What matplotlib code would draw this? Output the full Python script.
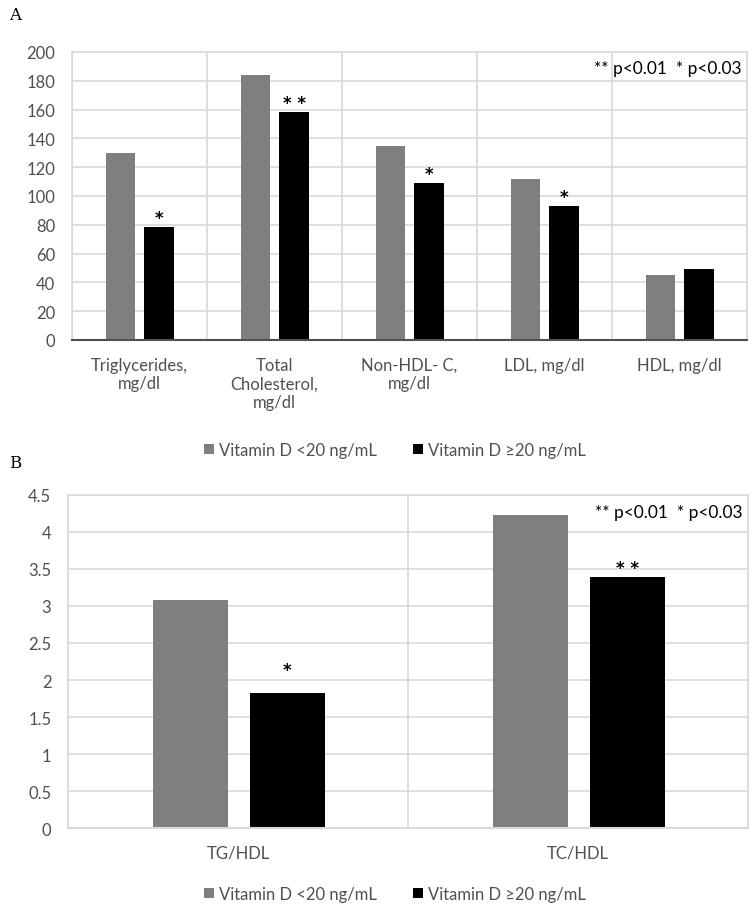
import numpy as np
import matplotlib.pyplot as plt
from matplotlib.ticker import FormatStrFormatter

plt.rcParams['font.family'] = ['Lato', 'DejaVu Sans']

# panel A
lipid_labels = ["Triglycerides,\nmg/dl", "Total\nCholesterol,\nmg/dl", "Non-HDL- C,\nmg/dl",
                "LDL, mg/dl", "HDL, mg/dl"]
lipid_low = [130, 184, 135, 112, 45]
lipid_high = [78.5, 158.5, 109, 93, 49]
lipid_stars = ["*", "**", "*", "*", ""]

# panel B
ratio_labels = ["TG/HDL", "TC/HDL"]
ratio_low = [3.08, 4.22]
ratio_high = [1.82, 3.39]
ratio_stars = ["*", "**"]

series_names = ["Vitamin D <20 ng/mL", "Vitamin D \u226520 ng/mL"]
GRAY = "#7f7f7f"
GRID = "#d9d9d9"
TXT = "#505050"

fig = plt.figure(figsize=(7.55, 9.12), dpi=100)
axA = fig.add_axes([0.0954, 0.6261, 0.894, 0.3158])
axB = fig.add_axes([0.0901, 0.0907, 0.9006, 0.3658])


def draw_panel(ax, labels, low, high, stars, ymax, ystep, star_offsets, zero_color):
    x = np.arange(len(labels))
    w = 0.22
    b1 = ax.bar(x - 0.14, low, w, color=GRAY, label=series_names[0], zorder=3)
    b2 = ax.bar(x + 0.145, high, w, color="black", label=series_names[1], zorder=3)
    for xi, h, s, off in zip(x, high, stars, star_offsets):
        if s:
            ax.annotate(" ".join(s), (xi + 0.145, h), xytext=(0, off),
                        textcoords="offset points", ha="center", va="bottom",
                        fontsize=12, fontweight="bold", family="DejaVu Sans")
    ax.set_xlim(-0.5, len(labels) - 0.5)
    ax.set_ylim(0, ymax)
    ax.set_yticks(np.arange(0, ymax + ystep / 2, ystep))
    ax.yaxis.set_major_formatter(FormatStrFormatter("%g"))
    ax.set_xticks(x)
    ax.set_xticklabels(labels)
    ax.set_xticks(np.arange(len(labels) + 1) - 0.5, minor=True)
    ax.grid(axis="y", color=GRID, linewidth=1.2, zorder=0)
    ax.grid(axis="x", which="minor", color=GRID, linewidth=1.2, zorder=0)
    ax.tick_params(which="both", length=0)
    ax.tick_params(axis="y", pad=12, labelsize=12, labelcolor=TXT)
    ax.tick_params(axis="x", pad=12, labelsize=12, labelcolor=TXT)
    for sp in ["left", "top", "right"]:
        ax.spines[sp].set_color(GRID)
        ax.spines[sp].set_linewidth(1.2)
    ax.spines["bottom"].set_color(zero_color)
    ax.spines["bottom"].set_linewidth(1.5)
    ax.spines["bottom"].set_zorder(4)
    ax.text(0.992, 0.972, "** p<0.01  * p<0.03", transform=ax.transAxes,
            ha="right", va="top", fontsize=12.5, color="black")
    return b1, b2


hA = draw_panel(axA, lipid_labels, lipid_low, lipid_high, lipid_stars, 200, 20,
                [0, 0, 0, 0, 0], TXT)
hB = draw_panel(axB, ratio_labels, ratio_low, ratio_high, ratio_stars, 4.5, 0.5,
                [10, 0], GRID)

for h, ypos in [(hA, 0.5055), (hB, 0.0186)]:
    fig.legend(h, series_names, loc="center", bbox_to_anchor=(0.523, ypos), ncol=2,
               frameon=False, fontsize=12, labelcolor=TXT, handlelength=0.6,
               handleheight=0.6, handletextpad=0.3, columnspacing=2.2)

fig.text(0.012, 0.983, "A", fontsize=12, family="DejaVu Serif", va="center")
fig.text(0.012, 0.492, "B", fontsize=12, family="DejaVu Serif", va="center")

fig.savefig("out.png", dpi=100)
